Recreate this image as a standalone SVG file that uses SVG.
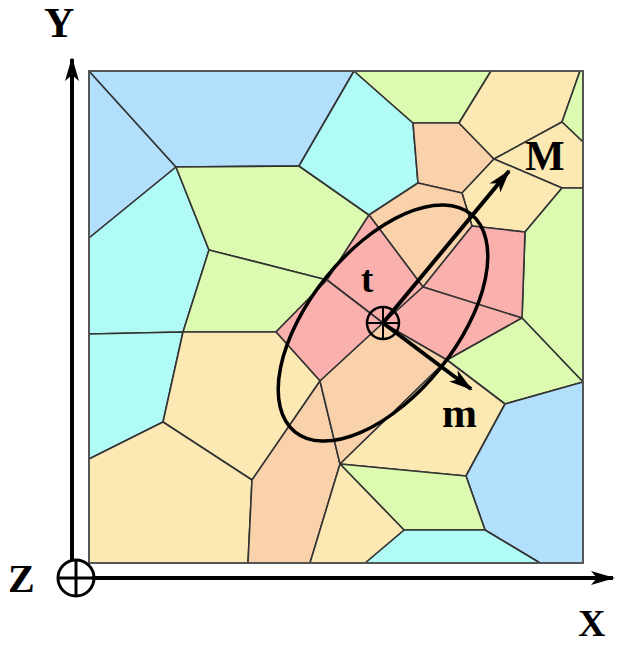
<svg xmlns="http://www.w3.org/2000/svg" width="618" height="645" viewBox="0 0 618 645">
<style>
.c{stroke:#333;stroke-width:1.6;stroke-linejoin:round}
.bl{fill:#b2dffb}.cy{fill:#b0fbf6}.gr{fill:#dcfbb0}.ye{fill:#fbe8b2}.pe{fill:#f9d1ab}.pk{fill:#fab1ad}
.ax{stroke:#000;stroke-width:4;fill:none}
.lbl{font-family:"Liberation Serif","Times New Roman",serif;font-weight:bold;fill:#000}
</style>
<defs>
<marker id="ah" markerUnits="userSpaceOnUse" markerWidth="30" markerHeight="20" viewBox="-24 -10 28 20" refX="0" refY="0" orient="auto">
<path d="M2,0 L-22,-7 L-16,0 L-22,7 Z" fill="#000"/>
</marker>
</defs>
<rect width="618" height="645" fill="#fff"/>
<g id="cells">
<polygon class="c bl" points="89,71 176,167 89,238"/>
<polygon class="c bl" points="89,71 354,71 299,166 176,167"/>
<polygon class="c cy" points="89,238 176,167 209,250 183,332 89,334"/>
<polygon class="c gr" points="176,167 299,166 369,215 327,280 209,250"/>
<polygon class="c gr" points="209,250 327,280 276,332 183,332"/>
<polygon class="c cy" points="354,71 413,123 418,183 369,215 299,166"/>
<polygon class="c gr" points="354,71 491,71 459,123 413,123"/>
<polygon class="c pe" points="413,123 459,123 494,159 462,193 418,183"/>
<polygon class="c ye" points="491,71 580,71 562,122 494,159 459,123"/>
<polygon class="c gr" points="580,71 583,71 583,142 562,122"/>
<polygon class="c ye" points="562,122 583,142 583,188 562,188 494,159"/>
<polygon class="c ye" points="494,159 562,188 525,232 472,226 462,193"/>
<polygon class="c pe" points="369,215 418,183 462,193 472,226 423,287"/>
<polygon class="c gr" points="562,188 583,188 583,382 522,318 525,232"/>
<polygon class="c pk" points="327,280 369,215 423,287 383,323"/>
<polygon class="c pk" points="423,287 472,226 525,232 522,318"/>
<polygon class="c pk" points="383,323 423,287 522,318 447,360"/>
<polygon class="c pk" points="276,332 327,280 383,323 320,381"/>
<polygon class="c cy" points="89,334 183,332 163,422 89,459"/>
<polygon class="c ye" points="183,332 276,332 320,381 252,480 163,422"/>
<polygon class="c ye" points="89,459 163,422 252,480 248,563 89,563"/>
<polygon class="c pe" points="252,480 320,381 340,464 310,563 248,563"/>
<polygon class="c pe" points="320,381 383,323 447,360 340,464"/>
<polygon class="c gr" points="522,318 583,382 505,404 447,360"/>
<polygon class="c ye" points="447,360 505,404 466,476 340,464"/>
<polygon class="c bl" points="505,404 583,382 583,563 540,563 485,530 466,476"/>
<polygon class="c gr" points="340,464 466,476 485,530 404,530"/>
<polygon class="c cy" points="404,530 485,530 540,563 365,563"/>
<polygon class="c ye" points="340,464 404,530 365,563 310,563"/>
<rect x="89" y="71" width="494" height="492" fill="none" stroke="#555" stroke-width="1.8"/>
</g>
<g id="ellipse">
<ellipse cx="383" cy="323" rx="140" ry="73" transform="rotate(-51 383 323)" fill="none" stroke="#000" stroke-width="3.5"/>
</g>
<g id="vectors">
<line class="ax" x1="383" y1="323" x2="509" y2="171" marker-end="url(#ah)"/>
<line class="ax" x1="383" y1="323" x2="471" y2="389" marker-end="url(#ah)"/>
</g>
<g id="point-t">
<circle cx="383" cy="323" r="16" fill="none" stroke="#000" stroke-width="2.5"/>
<line x1="367" y1="323" x2="399" y2="323" stroke="#000" stroke-width="2"/>
<line x1="383" y1="307" x2="383" y2="339" stroke="#000" stroke-width="2"/>
</g>
<g id="axes">
<line class="ax" x1="72" y1="560" x2="72" y2="59" marker-end="url(#ah)"/>
<line class="ax" x1="92" y1="578" x2="613" y2="578" marker-end="url(#ah)"/>
<circle cx="76" cy="578" r="18" fill="none" stroke="#000" stroke-width="3"/>
<line x1="58" y1="578" x2="94" y2="578" stroke="#000" stroke-width="3"/>
<line x1="76" y1="560" x2="76" y2="596" stroke="#000" stroke-width="3"/>
</g>
<g id="labels">
<text class="lbl" x="361" y="292" font-size="37">t</text>
<text class="lbl" x="525" y="170" font-size="42">M</text>
<text class="lbl" x="442" y="427" font-size="42">m</text>
<text class="lbl" x="44" y="37" font-size="42">Y</text>
<text class="lbl" x="8" y="592" font-size="40">Z</text>
<text class="lbl" x="578" y="636" font-size="38">X</text>
</g>
</svg>
